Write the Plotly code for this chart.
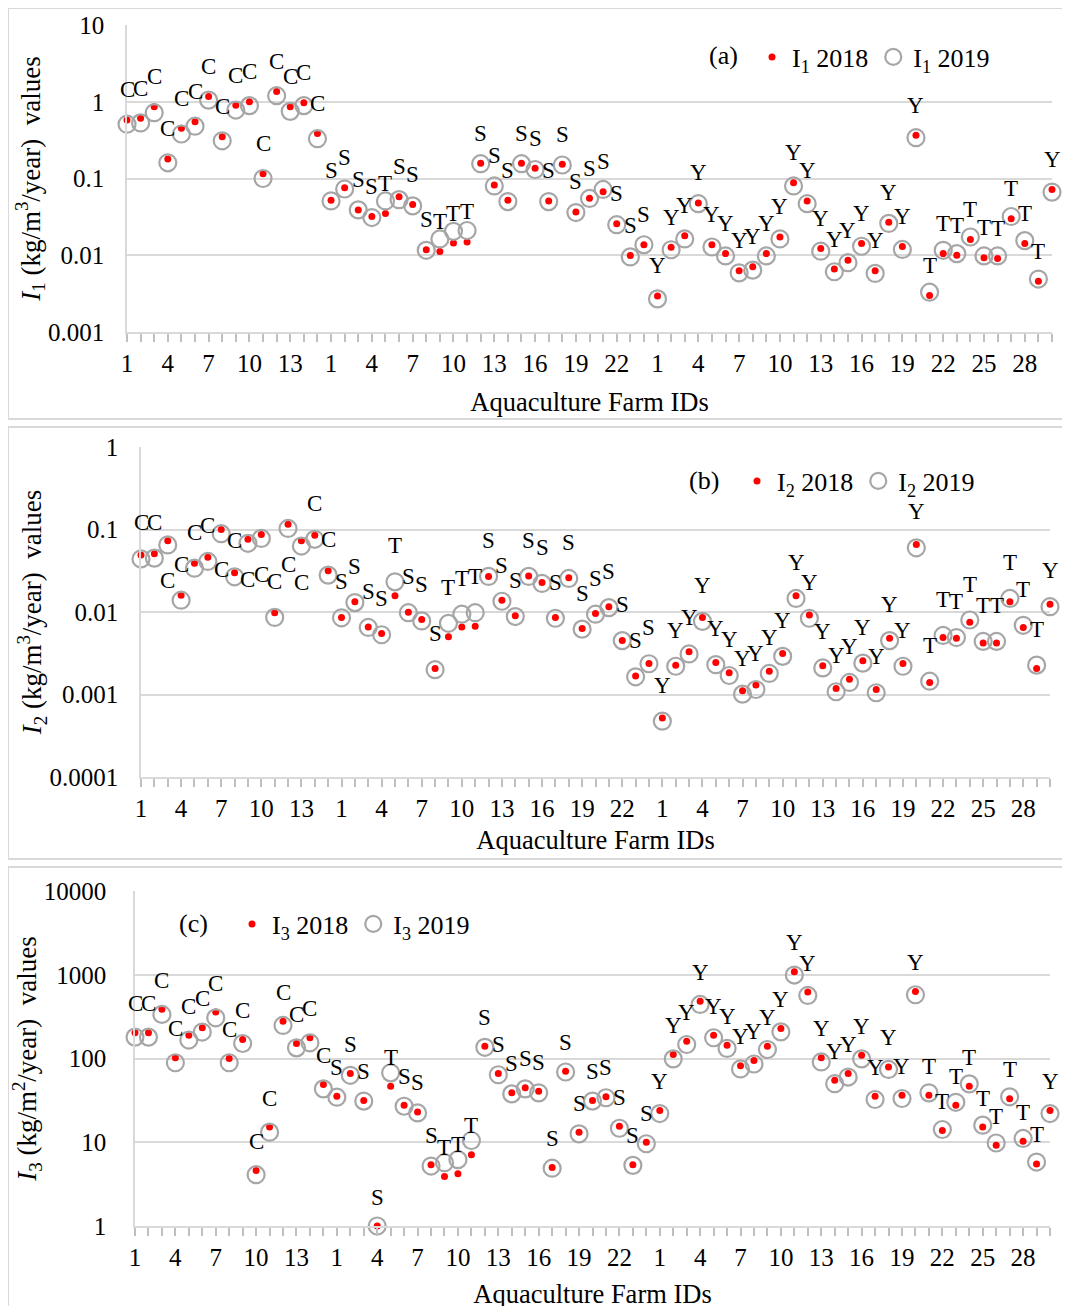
import math
import plotly.graph_objects as go

W, H = 1070, 1306
OFF = 8  # the page shows the figure 8 px in from the top-left corner


def fx(px):
    return (px - OFF) / W


def fy(py):
    return 1 - (py - OFF) / H


# ---------------- data ----------------
farm_ids = list(range(1, 16)) + list(range(1, 25)) + list(range(1, 31))
farm_types = (["C"] * 15 +
              ["S", "S", "S", "S", "T", "S", "S", "S", "T", "T", "T", "S",
               "S", "S", "S", "S", "S", "S", "S", "S", "S", "S", "S", "S"] +
              ["Y"] * 20 + ["T"] * 9 + ["Y"])

I1_2018 = [0.58, 0.61, 0.86, 0.18, 0.45, 0.55, 1.17, 0.35, 0.90, 1.0, 0.115, 1.36, 0.86, 0.97, 0.385,
           0.052, 0.076, 0.039, 0.032, 0.035, 0.058, 0.046, 0.0118, 0.0112, 0.0144, 0.0149, 0.158,
           0.082, 0.052, 0.158, 0.136, 0.051, 0.153, 0.0367, 0.0555, 0.067, 0.0257, 0.0099, 0.0137,
           0.00295, 0.0127, 0.018, 0.048, 0.0137, 0.0105, 0.0063, 0.0071, 0.0105, 0.0173, 0.088, 0.051,
           0.0122, 0.0066, 0.0086, 0.0142, 0.0063, 0.027, 0.013, 0.366, 0.0030, 0.0105, 0.010, 0.016,
           0.0093, 0.0091, 0.030, 0.0142, 0.0046, 0.072]
I1_2019 = [0.51, 0.53, 0.72, 0.16, 0.38, 0.48, 1.05, 0.31, 0.78, 0.89, 0.10, 1.2, 0.75, 0.89, 0.33,
           0.051, 0.073, 0.039, 0.031, 0.051, 0.053, 0.044, 0.0116, 0.0163, 0.0205, 0.021, 0.156,
           0.080, 0.050, 0.156, 0.131, 0.050, 0.150, 0.036, 0.055, 0.072, 0.025, 0.0095, 0.0137,
           0.0027, 0.0118, 0.0163, 0.047, 0.0128, 0.0098, 0.0059, 0.0064, 0.0098, 0.0163, 0.080, 0.047,
           0.0113, 0.0061, 0.0080, 0.0131, 0.0058, 0.026, 0.0119, 0.34, 0.0033, 0.0116, 0.0105, 0.0173,
           0.0098, 0.0098, 0.032, 0.0155, 0.0049, 0.0665]

I2_2018 = [0.049, 0.051, 0.073, 0.016, 0.039, 0.046, 0.10, 0.030, 0.076, 0.087, 0.0098, 0.116, 0.073, 0.085, 0.0316,
           0.0086, 0.0133, 0.0066, 0.0055, 0.0157, 0.0099, 0.0081, 0.00206, 0.0050, 0.0066, 0.0067, 0.027,
           0.0139, 0.0090, 0.0274, 0.0228, 0.0086, 0.026, 0.0063, 0.0096, 0.0116, 0.0045, 0.00168, 0.00238,
           0.00052, 0.00227, 0.0033, 0.0086, 0.00245, 0.00183, 0.00111, 0.0013, 0.00192, 0.00314, 0.0157,
           0.0092, 0.00223, 0.00118, 0.00153, 0.00256, 0.00115, 0.0048, 0.00238, 0.066, 0.0014, 0.0049,
           0.0048, 0.0075, 0.0042, 0.0042, 0.0133, 0.0065, 0.00206, 0.0124]
I2_2019 = [0.044, 0.045, 0.065, 0.0139, 0.034, 0.041, 0.089, 0.0267, 0.068, 0.078, 0.0086, 0.103, 0.063, 0.076, 0.028,
           0.0085, 0.013, 0.0065, 0.0053, 0.0232, 0.0098, 0.0078, 0.0020, 0.0073, 0.0094, 0.0098, 0.027,
           0.0135, 0.0088, 0.027, 0.0222, 0.0084, 0.0255, 0.0062, 0.0094, 0.0113, 0.0045, 0.00164, 0.00236,
           0.000475, 0.0022, 0.0031, 0.0077, 0.0023, 0.0017, 0.00101, 0.00115, 0.0018, 0.0029, 0.0146,
           0.0084, 0.0021, 0.00108, 0.0014, 0.0024, 0.00105, 0.0045, 0.0022, 0.060, 0.00145, 0.0052,
           0.0049, 0.0080, 0.0044, 0.0044, 0.0146, 0.0069, 0.00227, 0.0116]

I3_2018 = [203, 203, 386, 102, 190, 233, 358, 100, 169, 4.6, 15.2, 279, 151, 177, 48.9,
           35.5, 66, 31.5, 1.0, 46.7, 27.7, 23, 5.4, 3.9, 4.2, 7.1, 140,
           66, 38.9, 44.6, 40.7, 5.0, 70.6, 13.2, 31.5, 34.9, 15.5, 5.4, 10,
           23.9, 112, 161, 484, 190, 144, 81.7, 94.6, 140, 228, 1086, 621,
           102, 55, 66, 109, 35.5, 79.4, 36.5, 632, 36.5, 13.8, 27.7, 46.7,
           15.2, 9.2, 33, 10.3, 5.5, 23.9]
I3_2019 = [180, 180, 336, 89, 166, 207, 306, 89, 151, 4.1, 13.2, 248, 134, 154, 43.4,
           34.5, 63, 31, 1.0, 67.4, 26.9, 22.4, 5.2, 5.7, 6.2, 10.5, 136,
           64, 37.8, 43.4, 38.9, 4.9, 69, 12.6, 31, 34, 14.7, 5.3, 9.6,
           22, 99, 147, 442, 177, 132, 75, 86, 128, 208, 991, 566,
           91, 50, 60, 99, 32.4, 74, 33.3, 577, 38.9, 14.2, 30, 49.8,
           16, 9.8, 34.9, 11.1, 5.8, 22]

xs = list(range(len(farm_ids)))
major_x = [i for i, f in enumerate(farm_ids) if (f - 1) % 3 == 0]
major_text = [str(farm_ids[i]) for i in major_x]

FONT = "Liberation Serif, Times New Roman, serif"
RED = "#ff0000"
GREY = "#a6a6a6"
GRID = "#d9d9d9"

# panel layout (reference pixels)
panels = [
    dict(v18=I1_2018, v19=I1_2019, sub="1", unit="m<sup>3</sup>", tag="(a)",
         x0=127, x1=1052, ytop=25, ybot=332, yvals=[0.001, 0.01, 0.1, 1, 10],
         ylab=["0.001", "0.01", "0.1", "1", "10"], leg=(752, 57), tagpos=(723, 55),
         frame=(8, 8, 1068, 419), below=set(), ref="dot", shift=30,
         ystand=16, xtitle_st=17),
    dict(v18=I2_2018, v19=I2_2019, sub="2", unit="m<sup>3</sup>", tag="(b)",
         x0=141, x1=1050, ytop=447, ybot=777, yvals=[0.0001, 0.001, 0.01, 0.1, 1],
         ylab=["0.0001", "0.001", "0.01", "0.1", "1"], leg=(737, 481), tagpos=(704, 480),
         frame=(8, 427, 1068, 859), below={2, 6, 8, 9, 11, 12}, ref="circle", shift=36,
         ystand=16, xtitle_st=10),
    dict(v18=I3_2018, v19=I3_2019, sub="3", unit="m<sup>2</sup>", tag="(c)",
         x0=135, x1=1050, ytop=891, ybot=1226, yvals=[1, 10, 100, 1000, 10000],
         ylab=["1", "10", "100", "1000", "10000"], leg=(232, 924), tagpos=(193, 923),
         frame=(8, 867, 1068, 1320), below=set(), ref="dot", shift=29,
         ystand=22, xtitle_st=15),
]

fig = go.Figure()
layout = dict(width=W, height=H, margin=dict(l=0, r=0, t=0, b=0),
              paper_bgcolor="white", plot_bgcolor="white",
              font=dict(family=FONT, size=25, color="black"),
              showlegend=True)
annotations = []
shapes = []

for k, p in enumerate(panels):
    n = "" if k == 0 else str(k + 1)
    xa, ya = "x" + n, "y" + n
    legname = "legend" + n
    fig.add_trace(go.Scatter(
        x=xs, y=p["v18"], mode="markers", name=f"I<sub>{p['sub']}</sub> 2018",
        marker=dict(symbol="circle", size=7, color=RED), cliponaxis=False,
        xaxis=xa, yaxis=ya, legend=legname))
    fig.add_trace(go.Scatter(
        x=xs, y=p["v19"], mode="markers", name=f"I<sub>{p['sub']}</sub> 2019",
        marker=dict(symbol="circle-open", size=17, color=GREY, line=dict(width=2.2, color=GREY)),
        cliponaxis=False, xaxis=xa, yaxis=ya, legend=legname))

    lo, hi = math.log10(p["yvals"][0]), math.log10(p["yvals"][-1])
    layout["xaxis" + n] = dict(
        domain=[fx(p["x0"]), fx(p["x1"])], anchor=ya, range=[0, len(xs) - 1],
        tickvals=major_x, ticktext=major_text, ticks="outside", ticklen=8, tickwidth=1.5,
        tickcolor="#bfbfbf",
        minor=dict(tick0=0, dtick=1, ticks="outside", ticklen=8, tickwidth=1.5,
                   tickcolor="#bfbfbf", showgrid=False),
        showline=True, linecolor=GRID, linewidth=1.5,
        showgrid=False, zeroline=False, automargin=False, ticklabelstandoff=0,
        tickfont=dict(size=25),
        title=dict(text="Aquaculture Farm IDs", font=dict(size=26.5), standoff=p["xtitle_st"]))
    layout["yaxis" + n] = dict(
        domain=[fy(p["ybot"]), fy(p["ytop"])], anchor=xa, type="log",
        range=[lo, hi], tickvals=p["yvals"], ticktext=p["ylab"], ticks="",
        showline=True, linecolor=GRID, linewidth=1.5, showgrid=True, gridcolor=GRID,
        gridwidth=1.5, zeroline=False, automargin=False, ticklabelstandoff=p["ystand"],
        tickfont=dict(size=25),
        title=dict(text=f"<i>I</i><sub>{p['sub']}</sub> (kg/{p['unit']}/year)  values",
                   font=dict(size=27), standoff=0))
    layout[legname] = dict(
        x=fx(p["leg"][0]), y=fy(p["leg"][1]), xanchor="left", yanchor="middle",
        orientation="h", font=dict(size=26, family=FONT), bgcolor="rgba(0,0,0,0)",
        itemwidth=30, borderwidth=0)

    annotations.append(dict(
        x=fx(p["tagpos"][0]), y=fy(p["tagpos"][1]), xref="paper", yref="paper",
        text=p["tag"], showarrow=False, font=dict(size=26), xanchor="center", yanchor="middle"))

    src = p["v18"] if p["ref"] == "dot" else p["v19"]
    for i, (t, v) in enumerate(zip(farm_types, src)):
        sh = -p["shift"] if i in p["below"] else p["shift"]
        annotations.append(dict(
            x=i, y=math.log10(v), xref=xa, yref=ya, text=t, showarrow=False,
            yshift=sh, font=dict(size=23), xanchor="center", yanchor="middle"))

    fx0, fy0, fx1, fy1 = p["frame"]
    shapes.append(dict(type="rect", xref="paper", yref="paper",
                       x0=fx(fx0), x1=fx(fx1), y0=fy(fy1), y1=min(1.0, fy(fy0)),
                       line=dict(color=GRID, width=2), layer="below"))

layout["annotations"] = annotations
layout["shapes"] = shapes
fig.update_layout(**layout)
fig.write_html("out.html")
